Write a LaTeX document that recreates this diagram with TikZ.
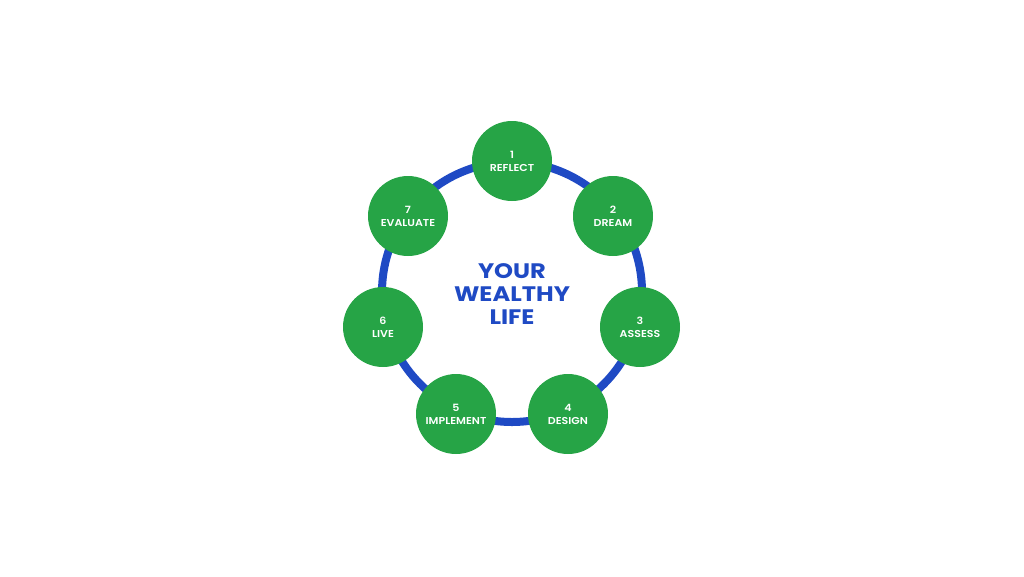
\documentclass[tikz,border=0pt]{standalone}
\usepackage{fontspec}
\setmainfont{Poppins}
\newfontfamily\judulfont[FakeStretch=1.15]{Poppins}
\newfontfamily\labelfont[FakeStretch=1.1]{Poppins SemiBold}
\definecolor{hijau}{RGB}{38,164,70}
\definecolor{biru}{RGB}{31,74,196}
\tikzset{
  langkah/.style={circle, fill=hijau, minimum size=80pt, inner sep=0pt,
    text=white, align=center, font=\labelfont\fontsize{10}{13}\selectfont},
}
\begin{document}
\begin{tikzpicture}[x=1pt,y=1pt]
    \useasboundingbox (0,0) rectangle (1024,-576);
    % lingkaran
    \coordinate (O) at (512,-292);
    \draw[biru, line width=8pt] (O) circle (130);

    % langkah-langkah
    \node[langkah] (reflect)   at (512,-161) {1\\REFLECT};
    \node[langkah] (dream)     at (613,-216) {2\\DREAM};
    \node[langkah] (assess)    at (640,-327) {3\\ASSESS};
    \node[langkah] (design)    at (568,-414) {4\\DESIGN};
    \node[langkah] (implement) at (456,-414) {5\\IMPLEMENT};
    \node[langkah] (live)      at (383,-327) {6\\LIVE};
    \node[langkah] (evaluate)  at (408,-216) {7\\EVALUATE};

    % judul
    \node[text=biru, align=center, font=\judulfont\fontsize{21}{23}\selectfont\bfseries] (judul) at (512,-294) {YOUR\\WEALTHY\\LIFE};
\end{tikzpicture}
\end{document}
